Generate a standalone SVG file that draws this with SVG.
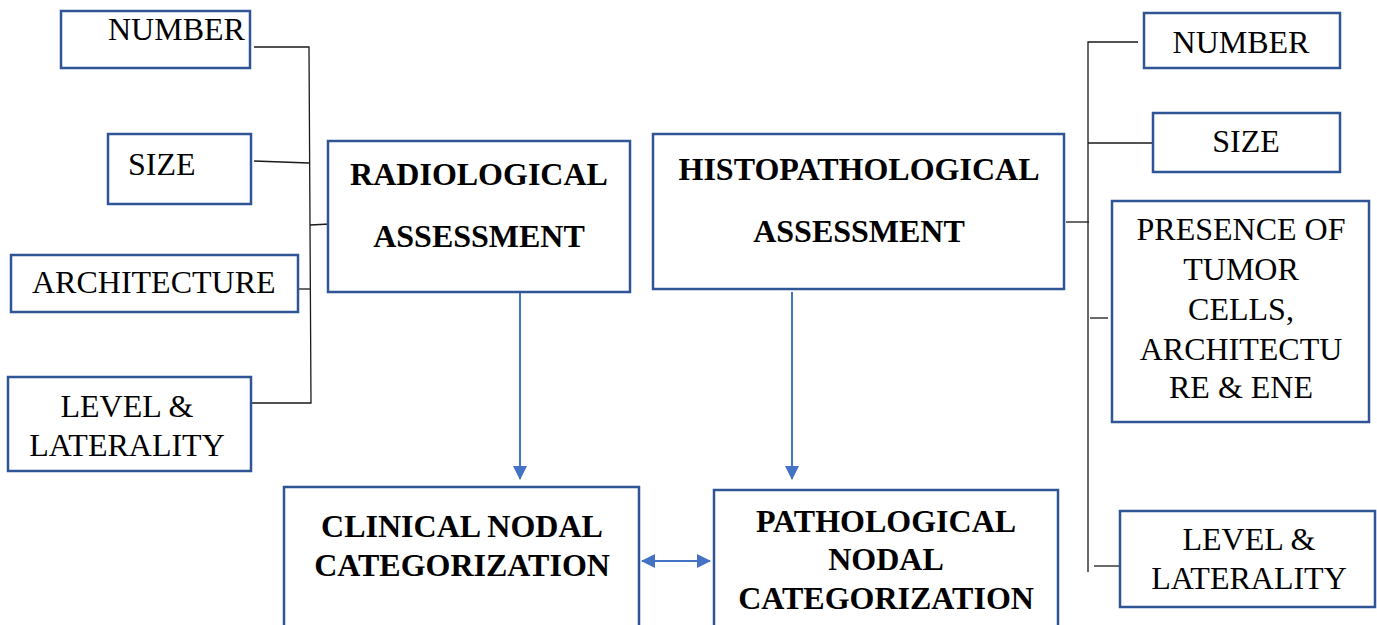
<svg xmlns="http://www.w3.org/2000/svg" width="1377" height="625" viewBox="0 0 1377 625">
<style>
.box{fill:#fff;stroke:#2F5597;stroke-width:2.5}
.t{font-family:"Liberation Serif","Times New Roman",serif;font-size:32px;fill:#000}
.b{font-weight:bold}
.m{text-anchor:middle}
.k{fill:none;stroke:#1a1a1a;stroke-width:1.3}
.bl{fill:none;stroke:#4472C4;stroke-width:2}
</style>
<defs>
<marker id="ah" viewBox="0 0 14 14" refX="13" refY="7" markerWidth="14" markerHeight="14" markerUnits="userSpaceOnUse" orient="auto-start-reverse">
<path d="M0,0 L14,7 L0,14 Z" fill="#4472C4"/>
</marker>
</defs>
<rect width="1377" height="625" fill="#fff"/>
<g id="connectors">
<path class="k" d="M254,47 H309 L311,403 H252"/>
<path class="k" d="M254,161 L309,163"/>
<path class="k" d="M296,289 H310"/>
<path class="k" d="M310,225 L330,224"/>
<path class="k" d="M1138,42 H1088 V572"/>
<path class="k" d="M1088,143 H1153"/>
<path class="k" d="M1066,222 H1089"/>
<path class="k" d="M1090,318 H1108"/>
<path class="k" d="M1094,566 H1120"/>
<path class="bl" d="M520,293 V479" marker-end="url(#ah)"/>
<path class="bl" d="M792,292 V479" marker-end="url(#ah)"/>
<path class="bl" d="M642,561 H710" marker-start="url(#ah)" marker-end="url(#ah)"/>
</g>
<g id="l-number">
<rect class="box" x="61" y="11" width="189" height="57"/>
<text class="t" x="108" y="40">NUMBER</text>
</g>
<g id="l-size">
<rect class="box" x="108" y="134" width="143" height="70"/>
<text class="t" x="128" y="175">SIZE</text>
</g>
<g id="l-architecture">
<rect class="box" x="11" y="255" width="287" height="57"/>
<text class="t" x="32" y="293">ARCHITECTURE</text>
</g>
<g id="l-level">
<rect class="box" x="8" y="377" width="243" height="94"/>
<text class="t m" x="127" y="417">LEVEL &amp;</text>
<text class="t m" x="127" y="456">LATERALITY</text>
</g>
<g id="radiological">
<rect class="box" x="328" y="141" width="302" height="151"/>
<text class="t b m" x="479" y="185">RADIOLOGICAL</text>
<text class="t b m" x="479" y="247">ASSESSMENT</text>
</g>
<g id="histopathological">
<rect class="box" x="653" y="134" width="411" height="155"/>
<text class="t b m" x="859" y="180">HISTOPATHOLOGICAL</text>
<text class="t b m" x="859" y="242">ASSESSMENT</text>
</g>
<g id="clinical">
<rect class="box" x="284" y="487" width="355" height="145"/>
<text class="t b m" x="462" y="537">CLINICAL NODAL</text>
<text class="t b m" x="462" y="576">CATEGORIZATION</text>
</g>
<g id="pathological">
<rect class="box" x="714" y="490" width="344" height="142"/>
<text class="t b m" x="886" y="532">PATHOLOGICAL</text>
<text class="t b m" x="886" y="570">NODAL</text>
<text class="t b m" x="886" y="609">CATEGORIZATION</text>
</g>
<g id="r-number">
<rect class="box" x="1144" y="13" width="196" height="55"/>
<text class="t m" x="1241" y="53">NUMBER</text>
</g>
<g id="r-size">
<rect class="box" x="1153" y="113" width="187" height="59"/>
<text class="t m" x="1246" y="152">SIZE</text>
</g>
<g id="r-presence">
<rect class="box" x="1112" y="201" width="257" height="221"/>
<text class="t m" x="1241" y="240">PRESENCE OF</text>
<text class="t m" x="1241" y="280">TUMOR</text>
<text class="t m" x="1241" y="320">CELLS,</text>
<text class="t m" x="1241" y="360">ARCHITECTU</text>
<text class="t m" x="1241" y="398">RE &amp; ENE</text>
</g>
<g id="r-level">
<rect class="box" x="1120" y="511" width="255" height="96"/>
<text class="t m" x="1249" y="550">LEVEL &amp;</text>
<text class="t m" x="1249" y="589">LATERALITY</text>
</g>
</svg>
